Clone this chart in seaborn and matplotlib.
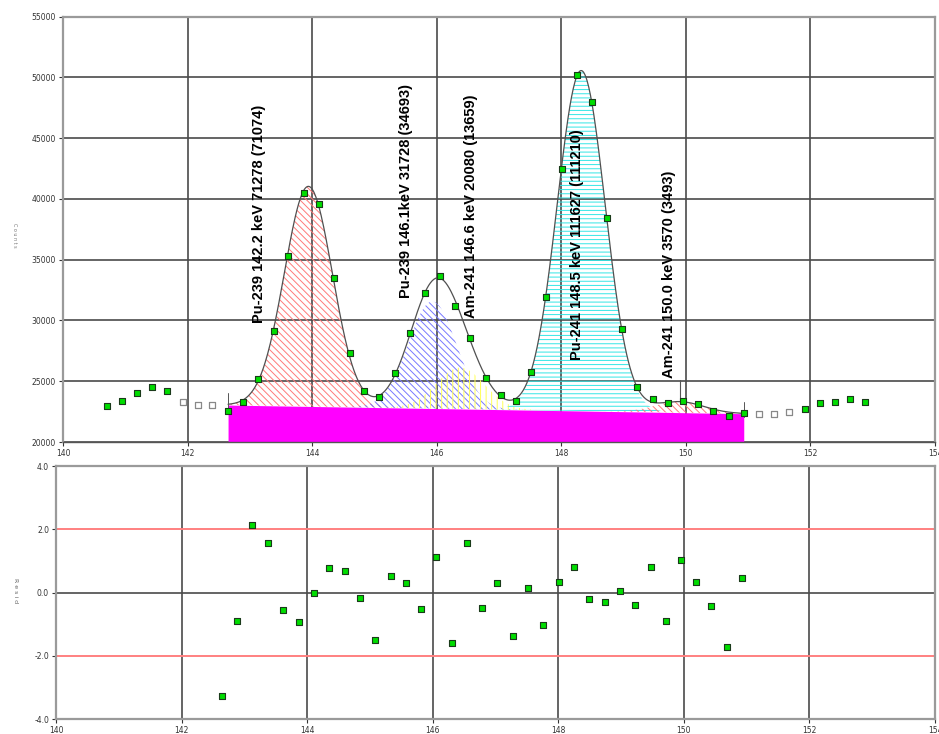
import numpy as np
import pandas as pd
import matplotlib
matplotlib.use("Agg")
import matplotlib.pyplot as plt
import seaborn as sns

# ---------------- data ----------------
energy = [140.70, 140.94, 141.19, 141.43, 141.67, 141.92, 142.16, 142.40, 142.65, 142.89,
          143.13, 143.38, 143.62, 143.87, 144.11, 144.35, 144.60, 144.84, 145.08, 145.33,
          145.57, 145.81, 146.06, 146.30, 146.54, 146.79, 147.03, 147.28, 147.52, 147.76,
          148.01, 148.25, 148.49, 148.74, 148.98, 149.22, 149.47, 149.71, 149.96, 150.20,
          150.44, 150.69, 150.93, 151.17, 151.42, 151.66, 151.91, 152.15, 152.39, 152.64,
          152.88]
counts = [22960, 23370, 24030, 24490, 24200, 23290, 23050, 23050, 22550, 23290,
          25190, 29140, 35310, 40490, 39560, 33500, 27330, 24200, 23700, 25680,
          28970, 32260, 33660, 31190, 28560, 25270, 23870, 23370, 25760, 31930,
          42470, 50200, 48000, 38400, 29300, 24530, 23540, 23210, 23370, 23130,
          22550, 22140, 22390, 22300, 22300, 22470, 22720, 23210, 23290, 23540,
          23290]
excluded = [5, 6, 7, 43, 44, 45]          # points outside the fit region (hollow)
fit_first, fit_last = 8, 42                # channel indices of the fit region

bkg_lo, bkg_hi = 23040, 22330              # linear background at the fit-region ends

peak_labels = ["Pu-239 142.2 keV 71278 (71074)",
               "Pu-239 146.1keV 31728 (34693)",
               "Am-241 146.6 keV 20080 (13659)",
               "Pu-241 148.5 keV 111627 (111210)",
               "Am-241 150.0 keV 3570 (3493)"]
peak_centers = [143.94, 145.93, 146.38, 148.32, 149.90]
peak_heights = [18100, 8800, 3400, 28000, 900]
peak_sigmas = [0.385, 0.385, 0.385, 0.385, 0.385]
label_x = [143.14, 145.51, 146.55, 148.25, 149.73]
label_y = [29790, 31850, 30200, 26750, 25270]

resid = [-3.28, -0.91, 2.13, 1.56, -0.56, -0.94, 0.00, 0.78, 0.69, -0.16,
         -1.50, 0.53, 0.31, -0.53, 1.13, -1.60, 1.56, -0.50, 0.31, -1.38,
         0.13, -1.03, 0.34, 0.81, -0.19, -0.31, 0.06, -0.38, 0.81, -0.91,
         1.03, 0.34, -0.44, -1.72, 0.47]

x_ticks = [140, 142, 144, 146, 148, 150, 152, 154]
top_yticks = [20000, 25000, 30000, 35000, 40000, 45000, 50000, 55000]
res_yticks = [-4.0, -2.0, 0.0, 2.0, 4.0]

# ---------------- styles ----------------
peak_colors = ["#ff7a7a", "#7878ff", "#ffff55", "#33e6e6", "#ff7a7a"]
peak_hatches = ["\\\\\\\\\\", "\\\\\\\\\\", "|||", "----", "\\\\\\\\\\"]
draw_order = [0, 2, 1, 3, 4]

sns.set_style("white")
plt.rcParams["font.family"] = ["DejaVu Sans"]
plt.rcParams["hatch.linewidth"] = 0.7

fig = plt.figure(figsize=(9.39, 7.34), dpi=100)
ax = fig.add_axes([0.0671, 0.3978, 0.9286, 0.5797])
axr = fig.add_axes([0.0596, 0.0204, 0.9361, 0.3447])

grid_c = "#4a4a4a"
frame_c = "#9a9a9a"

# ---------------- top panel ----------------
fit_lo, fit_hi = energy[fit_first], energy[fit_last]
xs = np.linspace(fit_lo, fit_hi, 600)
base = np.interp(xs, [fit_lo, fit_hi], [bkg_lo, bkg_hi])
comps = [h * np.exp(-0.5 * ((xs - c) / s) ** 2)
         for c, h, s in zip(peak_centers, peak_heights, peak_sigmas)]
fit = base + np.sum(comps, axis=0)

ax.fill_between(xs, 20000, base, color="#ff00ff", lw=0, zorder=2)
for i in draw_order:
    ax.fill_between(xs, base, base + comps[i], facecolor="none",
                    edgecolor=peak_colors[i], hatch=peak_hatches[i], lw=0, zorder=2.2 + 0.1 * i)

sns.lineplot(x=xs, y=fit, ax=ax, color="#505050", lw=0.9, zorder=4)

df = pd.DataFrame({"energy": energy, "counts": counts})
df["used"] = [i not in excluded for i in range(len(energy))]
sns.scatterplot(data=df[df.used], x="energy", y="counts", ax=ax, marker="s", s=18,
                color="#00dd00", edgecolor="#1a3a1a", linewidth=0.8, zorder=6)
sns.scatterplot(data=df[~df.used], x="energy", y="counts", ax=ax, marker="s", s=15,
                color="white", edgecolor="#888888", linewidth=0.9, zorder=6)

# fit region end markers
for xe, be in ((fit_lo, bkg_lo), (fit_hi, bkg_hi)):
    ax.plot([xe, xe], [be - 300, be + 1000], color="#555555", lw=0.7, zorder=5)

# peak labels
for i, t in enumerate(peak_labels):
    ax.text(label_x[i], label_y[i], t, rotation=90, ha="center", va="bottom",
            fontsize=10.5, fontweight="bold", family=["Liberation Sans", "DejaVu Sans"],
            color="black", zorder=7)
# leader line of the last peak
fit_at = np.interp(peak_centers[4], xs, fit)
ax.plot([peak_centers[4], peak_centers[4]], [fit_at, label_y[4] - 200],
        color="#555555", lw=0.8, zorder=5)

ax.set_xlim(140, 154)
ax.set_ylim(20000, 55000)
ax.set_xticks(x_ticks)
ax.set_yticks(top_yticks)
ax.set_xticklabels([str(v) for v in x_ticks])
ax.set_yticklabels([str(v) for v in top_yticks])
ax.set_axisbelow(True)
ax.grid(True, color=grid_c, lw=1.2)
ax.set_xlabel("")
ax.set_ylabel("")
ax.tick_params(labelsize=5.5, length=3, width=0.8, colors="#333333", pad=2,
               direction="out", bottom=True, left=True)
for sp in ax.spines.values():
    sp.set_color(frame_c)
    sp.set_linewidth(1.6)
ax.spines["bottom"].set_color("#555555")
ax.spines["bottom"].set_linewidth(1.0)
fig.text(0.015, 0.68, "C o u n t s", rotation=270, fontsize=3.5, color="#777777",
         ha="center", va="center")

# ---------------- residual panel ----------------
rdf = pd.DataFrame({"energy": energy[fit_first:fit_last + 1], "resid": resid})
axr.axhline(2.0, color="#ff8080", lw=1.4, zorder=1.5)
axr.axhline(-2.0, color="#ff8080", lw=1.4, zorder=1.5)
axr.axhline(0.0, color=grid_c, lw=1.2, zorder=1.4)
sns.scatterplot(data=rdf, x="energy", y="resid", ax=axr, marker="s", s=18,
                color="#00dd00", edgecolor="#1a3a1a", linewidth=0.8, zorder=6)
axr.set_xlim(140, 154)
axr.set_ylim(-4, 4)
axr.set_xticks(x_ticks)
axr.set_yticks(res_yticks)
axr.set_xticklabels([str(v) for v in x_ticks])
axr.set_yticklabels([f"{v:.1f}" for v in res_yticks])
axr.set_axisbelow(True)
axr.grid(True, axis="x", color=grid_c, lw=1.2)
axr.set_xlabel("")
axr.set_ylabel("")
axr.tick_params(labelsize=5.5, length=3, width=0.8, colors="#333333", pad=2,
                direction="out", bottom=True, left=True)
for sp in axr.spines.values():
    sp.set_color(frame_c)
    sp.set_linewidth(1.6)
fig.text(0.016, 0.195, "R e s i d", rotation=270, fontsize=4.5, color="#666666",
         ha="center", va="center")

fig.savefig("out.png", dpi=100)
